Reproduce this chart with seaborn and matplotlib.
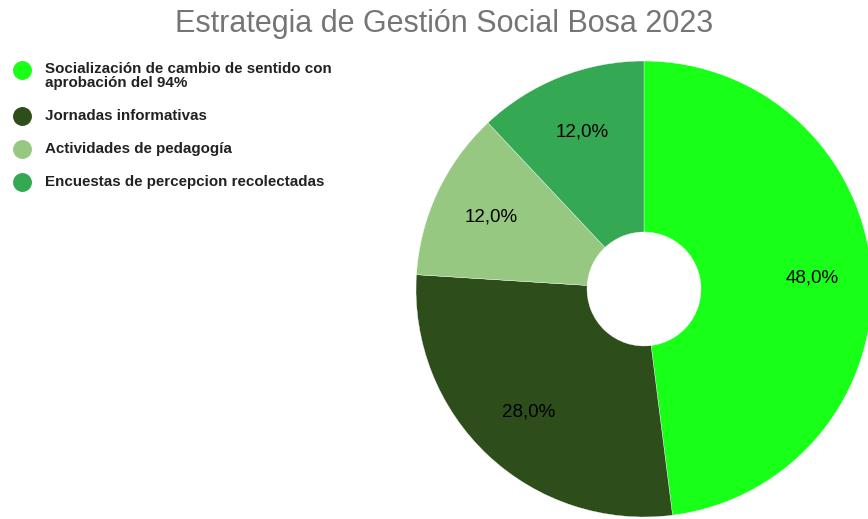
import matplotlib
matplotlib.use("Agg")
import matplotlib.pyplot as plt
import seaborn as sns

categories = [
    "Socialización de cambio de sentido con\naprobación del 94%",
    "Jornadas informativas",
    "Actividades de pedagogía",
    "Encuestas de percepcion recolectadas",
]
values = [48, 28, 12, 12]
colors = ["#18ff18", "#2d4d1b", "#97c882", "#34a853"]
title = "Estrategia de Gestión Social Bosa 2023"

sns.set_theme(style="white")
plt.rcParams["font.family"] = ["Liberation Sans", "DejaVu Sans"]

W, H = 868, 519
fig = plt.figure(figsize=(W / 100, H / 100), dpi=100)
ax = fig.add_axes([0, 0, 1, 1])

cx, cy, R = 644, H - 289, 228
wedges, texts, autotexts = ax.pie(
    values,
    colors=colors,
    startangle=90,
    counterclock=False,
    center=(cx, cy),
    radius=R,
    autopct=lambda p: f"{p:.1f}%".replace(".", ","),
    pctdistance=0.74,
    wedgeprops=dict(width=R * 0.75, edgecolor="white", linewidth=0.25),
    textprops=dict(fontsize=13.5, color="black"),
)
ax.set_xlim(0, W)
ax.set_ylim(0, H)
ax.set_aspect("equal")
ax.axis("off")

fig.text(444 / W, 1 - 24 / H, title, ha="center", va="center",
         fontsize=22, color="#757575")

# legend
leg_y = [76, 116, 149, 182]
circ_y = [70, 116, 149, 182]
for lab, col, ty, cyy in zip(categories, colors, leg_y, circ_y):
    ax.scatter([22], [H - cyy], s=185, color=col, clip_on=False, linewidth=0)
    fig.text(45 / W, 1 - ty / H, lab, ha="left", va="center",
             fontsize=10.9, fontweight="bold", color="#222222",
             linespacing=1.0)

fig.savefig("out.png", dpi=100)
